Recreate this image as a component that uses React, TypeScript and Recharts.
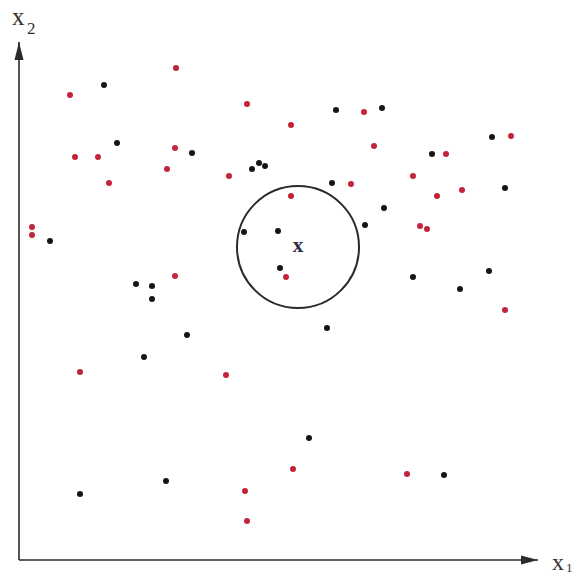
import React from 'react';
import { ScatterChart, Scatter, XAxis, YAxis, ReferenceLine, ReferenceDot } from 'recharts';

// class 1 (red) samples, x1 / x2 measured from the axes origin
const redX1 = [157, 51, 228, 272, 156, 56, 79, 148, 90, 210, 332, 345, 355, 394, 427, 492, 418, 443, 272, 401, 408, 13, 13, 267, 156, 61, 207, 486, 274, 388, 226, 228];
const redX2 = [492, 465, 456, 435, 412, 403, 403, 391, 377, 384, 376, 448, 414, 384, 406, 424, 364, 370, 364, 334, 331, 333, 325, 283, 284, 188, 185, 250, 91, 86, 69, 39];

// class 2 (black) samples
const blackX1 = [85, 317, 363, 98, 173, 233, 240, 246, 313, 413, 473, 486, 365, 346, 31, 225, 259, 261, 117, 133, 133, 168, 125, 394, 470, 441, 308, 290, 425, 61, 147];
const blackX2 = [475, 450, 452, 417, 407, 391, 397, 394, 377, 406, 423, 372, 352, 335, 319, 328, 329, 292, 276, 274, 261, 225, 203, 283, 289, 271, 232, 122, 85, 66, 79];

// query point x and its neighbourhood
const queryPoint = { x1: 279, x2: 313 };
const xMax = 519;
const yMax = 518;

const redData = redX1.map((v, i) => ({ x1: v, x2: redX2[i] }));
const blackData = blackX1.map((v, i) => ({ x1: v, x2: blackX2[i] }));

const AXIS = '#2a2a2a';

const Dot = (color: string) => (props: any) => <circle cx={props.cx} cy={props.cy} r={3} fill={color} />;

const ArrowRight = (props: any) => (
  <polygon points={`${props.cx},${props.cy} ${props.cx - 17},${props.cy - 4.5} ${props.cx - 17},${props.cy + 4.5}`} fill={AXIS} />
);
const ArrowUp = (props: any) => (
  <polygon points={`${props.cx},${props.cy} ${props.cx - 4.5},${props.cy + 18} ${props.cx + 4.5},${props.cy + 18}`} fill={AXIS} />
);

const App = () => (
  <div style={{ position: 'absolute', left: 0, top: 0 }}>
    <ScatterChart width={578} height={576} margin={{ top: 42, right: 40, bottom: 16, left: 19 }}>
      <XAxis type="number" dataKey="x1" domain={[0, xMax]} hide />
      <YAxis type="number" dataKey="x2" domain={[0, yMax]} hide />
      <ReferenceLine y={0} stroke={AXIS} strokeWidth={1.6} />
      <ReferenceLine x={0} stroke={AXIS} strokeWidth={1.6} />
      <ReferenceDot x={xMax} y={0} ifOverflow="visible" shape={ArrowRight} />
      <ReferenceDot x={0} y={yMax} ifOverflow="visible" shape={ArrowUp} />
      <ReferenceDot x={queryPoint.x1} y={queryPoint.x2} r={61} fill="none" stroke={AXIS} strokeWidth={2} />
      <Scatter data={blackData} shape={Dot('#151515')} isAnimationActive={false} />
      <Scatter data={redData} shape={Dot('#c4233b')} isAnimationActive={false} />
      <text x={298} y={252} textAnchor="middle" fontFamily="Liberation Serif" fontWeight="bold" fontSize={21} fill="#2d2d45">x</text>
      <text x={12} y={25} fontFamily="Liberation Serif" fontSize={25} fill="#333">x</text>
      <text x={27} y={34} fontFamily="Liberation Serif" fontSize={17} fill="#333">2</text>
      <text x={552} y={570} fontFamily="Liberation Serif" fontSize={24} fill="#333">x</text>
      <text x={566} y={572} fontFamily="Liberation Serif" fontSize={13} fill="#333">1</text>
    </ScatterChart>
  </div>
);

export default App;
